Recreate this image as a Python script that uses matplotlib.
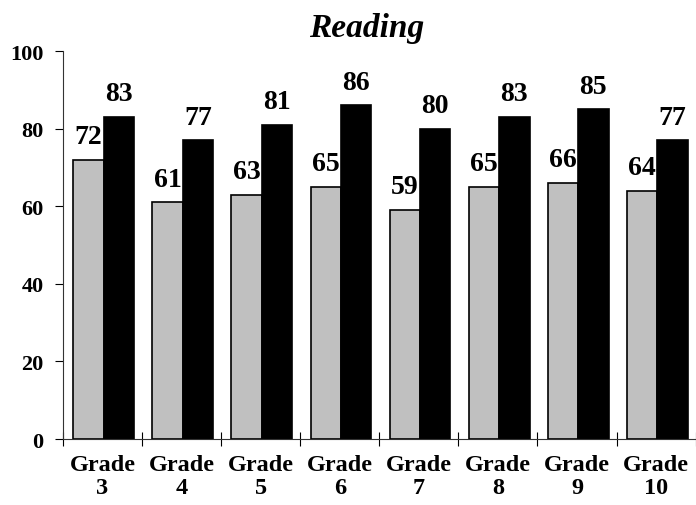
import matplotlib
matplotlib.use("Agg")
import matplotlib.pyplot as plt
import numpy as np

grades = ["Grade\n3", "Grade\n4", "Grade\n5", "Grade\n6", "Grade\n7", "Grade\n8", "Grade\n9", "Grade\n10"]
series_gray = [72, 61, 63, 65, 59, 65, 66, 64]
series_black = [83, 77, 81, 86, 80, 83, 85, 77]
yticks = [0, 20, 40, 60, 80, 100]

plt.rcParams['font.family'] = ['Liberation Serif', 'DejaVu Serif']
plt.rcParams['font.weight'] = 'bold'

fig = plt.figure(figsize=(6.96, 5.06), dpi=100)
ax = fig.add_axes([0.0905, 0.1304, 0.909, 0.7668])

x = np.arange(len(grades))
w = 0.385
b1 = ax.bar(x - w / 2 + 0.015, series_gray, w, color="#C0C0C0", edgecolor="black", linewidth=1.2)
b2 = ax.bar(x + w / 2 + 0.015, series_black, w, color="black", edgecolor="black", linewidth=1.2)

for bars, vals in ((b1, series_gray), (b2, series_black)):
    for r, v in zip(bars, vals):
        ax.annotate(f"{v}", (r.get_x() + r.get_width() / 2, v), xytext=(0, 12),
                    textcoords="offset points", ha="center", va="baseline",
                    fontsize=20, fontweight="bold")

ax.set_xlim(-0.5, len(grades) - 0.5)
ax.set_ylim(0, 100)
ax.set_yticks(yticks)
ax.set_yticklabels([str(t) for t in yticks], fontsize=16, fontweight="bold")
ax.set_xticks(x)
ax.set_xticklabels(grades, fontsize=17.5, fontweight="bold", linespacing=1.12)
ax.tick_params(axis="x", length=0, pad=11)
ax.set_xticks(np.arange(len(grades) + 1) - 0.5, minor=True)
ax.tick_params(axis="x", which="minor", length=10, direction="inout", width=0.8)
ax.tick_params(axis="y", length=6, direction="out", width=0.8, pad=8)

for s in ("top", "right"):
    ax.spines[s].set_visible(False)
ax.spines["left"].set_linewidth(0.8)
ax.spines["bottom"].set_linewidth(0.8)
ax.spines["left"].set_color("#333333")
ax.spines["bottom"].set_color("#333333")

fig.text(0.527, 0.943, "Reading", ha="center", va="center", fontsize=24,
         fontweight="bold", fontstyle="italic")

fig.savefig("out.png", dpi=100)
